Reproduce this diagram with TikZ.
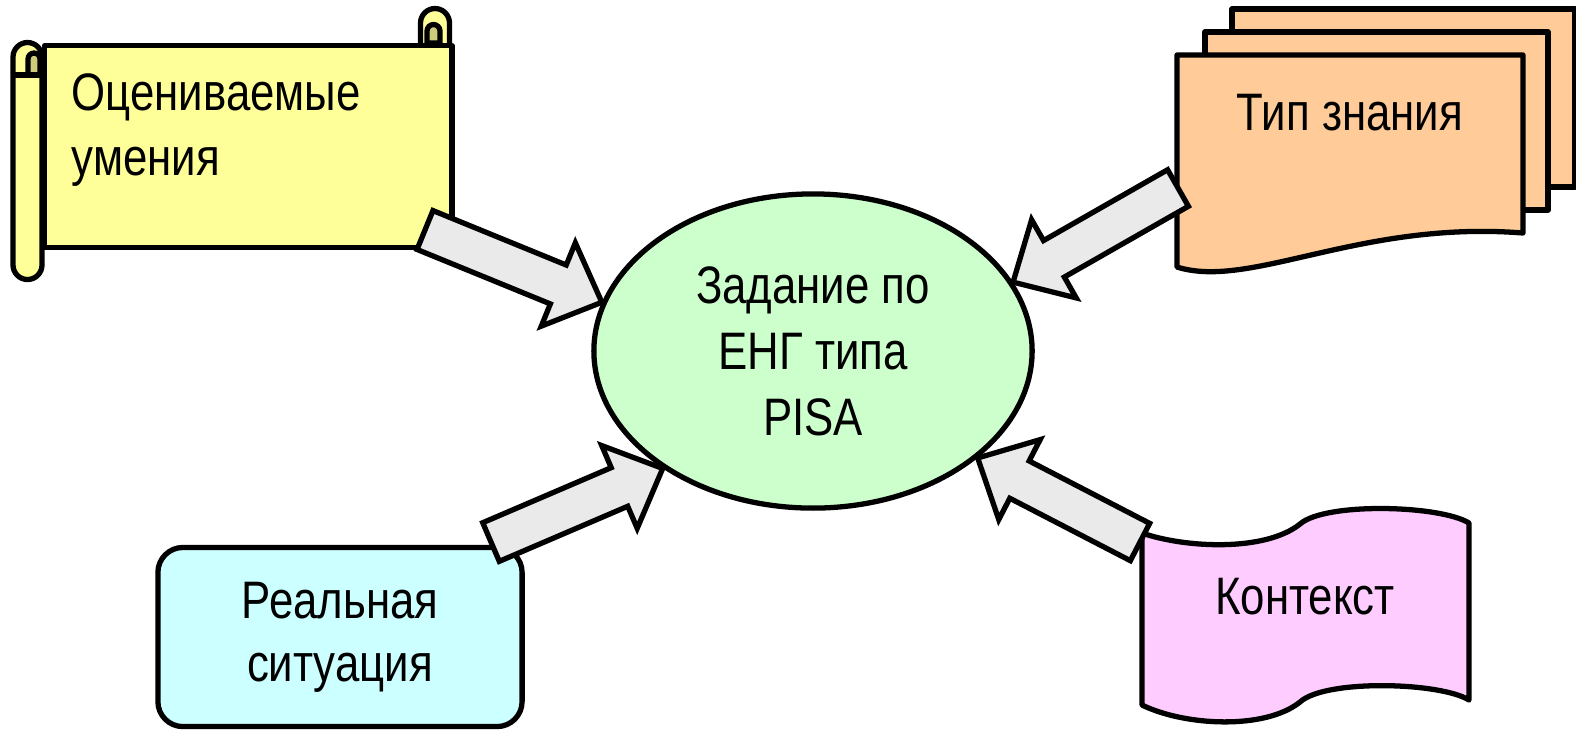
\documentclass[tikz,border=0pt]{standalone}
\usepackage{fontspec}
\setmainfont{Liberation Sans}[FakeStretch=0.83]
\usetikzlibrary{calc,shapes.geometric,positioning}
\definecolor{scrollyellow}{RGB}{255,255,153}
\definecolor{scrollolive}{RGB}{204,204,122}
\definecolor{docorange}{RGB}{255,204,153}
\definecolor{taskgreen}{RGB}{204,255,204}
\definecolor{situcyan}{RGB}{204,255,255}
\definecolor{tapepink}{RGB}{255,204,255}
\definecolor{arrowgray}{RGB}{234,234,234}
\tikzset{
  outline/.style={draw=black, line width=1.5pt, line join=round},
  taskellipse/.style={ellipse, outline, fill=taskgreen, inner sep=0pt,
    minimum width=4.38cm, minimum height=3.14cm, align=center,
    font=\fontsize{15}{18.8}\selectfont},
  situbox/.style={rectangle, rounded corners=0.25cm, outline, fill=situcyan,
    minimum width=3.64cm, minimum height=1.79cm, align=center,
    font=\fontsize{15}{18}\selectfont},
  lbl/.style={inner sep=0pt, align=center, font=\fontsize{15}{18.5}\selectfont},
  fatarrow/.style={outline, line join=miter, fill=arrowgray}
}
% wide block arrow from a tail point to a tip point
\newcommand{\blockarrow}[2]{%
  \coordinate (hb) at ($(#2)!0.47cm!(#1)$);
  \draw[fatarrow] ($(#1)!0.21cm!90:(#2)$) -- ($(hb)!0.21cm!90:(#2)$)
    -- ($(hb)!0.45cm!90:(#2)$) -- (#2) -- ($(hb)!0.45cm!-90:(#2)$)
    -- ($(hb)!0.21cm!-90:(#2)$) -- ($(#1)!0.21cm!-90:(#2)$) -- cycle;
}

\begin{document}
\begin{tikzpicture}[x=0.01cm, y=-0.01cm]
\fill[white] (0,0) rectangle (1576,729);
\useasboundingbox (0,0) rectangle (1576,729);

% scroll: top right curl, body, left roll
\draw[outline, fill=scrollyellow] (420.5,43) -- (420.5,23) arc(180:360:14.5) -- (449.5,43);
\node[outline, fill=scrollyellow, minimum width=4.07cm, minimum height=2.02cm,
  anchor=north west, inner sep=0pt] (skills) at (42,43) {};
\draw[outline, fill=scrollolive] (427,43) -- (427,31) arc(180:360:6.5) -- (440,43) -- cycle;
\draw[outline, fill=scrollyellow] (13,57) -- (13,265) arc(180:0:14.5) -- (42,57) arc(0:-180:14.5) -- cycle;
\draw[outline, fill=scrollolive] (28,75) -- (28,59) arc(180:360:6) -- (40,75) -- cycle;
\draw[outline] (13,75) -- (42,75);
\node[lbl, align=left, anchor=north west] (skillstext) at (71,73) {Оцениваемые\\умения};

% stack of pages
\draw[outline, fill=docorange] (1232,9) rectangle (1575,187);
\draw[outline, fill=docorange] (1205,32) rectangle (1548,210);
\draw[outline, fill=docorange] (1177,55) -- (1523,55) -- (1523,233)
  .. controls (1360,220) and (1250,290) .. (1177,267) -- cycle;
\node[lbl] (knowtype) at (1350,113) {Тип знания};

% centre
\node[taskellipse] (task) at (813,351) {Задание по\\ЕНГ типа\\PISA};

\node[situbox] (situ) at (340,637) {Реальная\\ситуация};

% punched tape
\draw[outline, fill=tapepink] (1142,533) .. controls (1185,548) and (1265,552) .. (1300,524)
  .. controls (1325,502) and (1440,505) .. (1469,523) -- (1469,700)
  .. controls (1440,682) and (1325,679) .. (1300,702)
  .. controls (1265,730) and (1185,726) .. (1142,705) -- cycle;
\node[lbl] (context) at (1305,597) {Контекст};

% arrows into the centre
\coordinate (tailskills) at (425,230);
\coordinate (tailsitu) at (491,542);
\coordinate (tailtype) at (1178,188);
\coordinate (tailcontext) at (1140,542);
\blockarrow{tailskills}{task.167}
\blockarrow{tailsitu}{task.218}
\blockarrow{tailtype}{task.19}
\blockarrow{tailcontext}{task.327}
\end{tikzpicture}
\end{document}
